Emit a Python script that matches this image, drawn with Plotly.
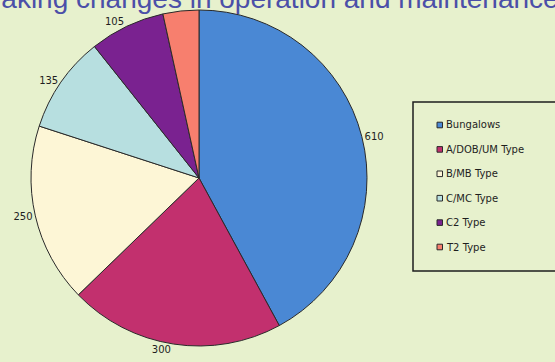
import plotly.graph_objects as go

labels = ["Bungalows", "A/DOB/UM Type", "B/MB Type", "C/MC Type", "C2 Type", "T2 Type"]
values = [610, 300, 250, 135, 105, 50]
shown_text = ["610", "300", "250", "135", "105", ""]
colors = ["#4a88d4", "#c2306e", "#fdf6d6", "#b7dfe0", "#7a2290", "#f77f6e"]
title_text = "Making changes in operation and maintenance"

W, H = 555, 362
BG = "#e7f1cd"

def px(x):
    return x / W

def py(y):
    return 1 - y / H

cx, cy, r = 199, 178, 168

fig = go.Figure()
fig.add_trace(go.Pie(
    labels=labels, values=values, text=shown_text,
    textinfo="text", textposition="outside",
    sort=False, direction="clockwise", rotation=0,
    marker=dict(colors=colors, line=dict(color="#2a2a2a", width=1)),
    textfont=dict(family="DejaVu Sans", size=10, color="#1e1e1e"),
    domain=dict(x=[px(cx - r), px(cx + r)], y=[py(cy + r), py(cy - r)]),
    showlegend=False, hoverinfo="label+value",
))

shapes = []
annotations = []

# legend box
shapes.append(dict(type="rect", xref="paper", yref="paper",
                   x0=px(413), x1=px(565), y0=py(271), y1=py(102),
                   line=dict(color="#1e1e1e", width=1.5), fillcolor="rgba(0,0,0,0)"))
y0, step = 125, 24.4
for i, (lab, col) in enumerate(zip(labels, colors)):
    yc = y0 + i * step
    shapes.append(dict(type="rect", xref="paper", yref="paper",
                       x0=px(437), x1=px(442.5), y0=py(yc + 2.8), y1=py(yc - 2.8),
                       line=dict(color="#2a2a2a", width=1), fillcolor=col))
    annotations.append(dict(xref="paper", yref="paper", x=px(444), y=py(yc),
                            xanchor="left", yanchor="middle", showarrow=False,
                            text=lab, font=dict(family="DejaVu Sans", size=10, color="#1e1e1e")))

# title (clipped at the top edge as in the reference)
annotations.append(dict(xref="paper", yref="paper", x=0, y=1, xanchor="left", yanchor="bottom",
                        xshift=-24, yshift=-16, showarrow=False, text=title_text,
                        font=dict(family="Liberation Sans", size=28, color="#4b4fa8")))

fig.update_layout(
    width=W, height=H, margin=dict(l=0, r=0, t=0, b=0),
    paper_bgcolor=BG, plot_bgcolor=BG,
    shapes=shapes, annotations=annotations,
)
fig.write_html("out.html")
